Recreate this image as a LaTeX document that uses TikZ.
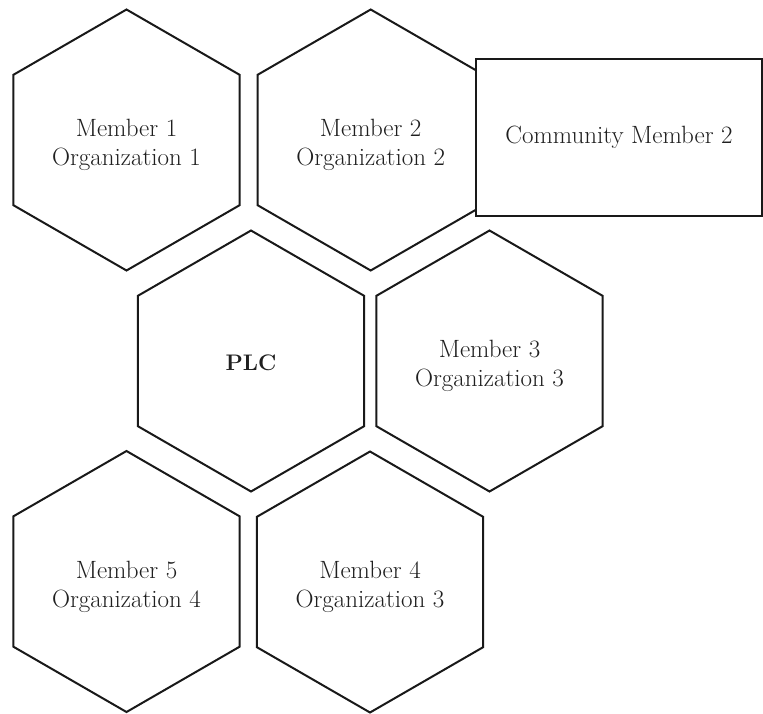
\documentclass[tikz,border=0pt]{standalone}
\usetikzlibrary{shapes.geometric}
\begin{document}
\begin{tikzpicture}[x=1pt,y=-1pt,
  hexa/.style={draw=black!90, line width=2pt, regular polygon, regular polygon sides=6,
    shape border rotate=30, minimum size=261pt, inner sep=0pt, fill=white},
  hexlab/.style={align=center, font=\fontsize{25}{29}\selectfont, text=black!88,
    inner sep=0pt, yshift=-5pt},
  rectbox/.style={draw=black!90, line width=2pt, rectangle, minimum width=286pt,
    minimum height=157pt, inner sep=0pt, fill=white, font=\fontsize{25}{29}\selectfont, text=black!88}]
\useasboundingbox (0,0) rectangle (763,713);
\node[hexa, label={[hexlab]center:{Member 1\\Organization 1}}] (m1) at (126.5,140) {};
\node[hexa, label={[hexlab]center:{Member 2\\Organization 2}}] (m2) at (370.7,140) {};
\node[rectbox] (c2) at (619,137.5) {Community Member 2};
\node[hexa, label={[hexlab, font=\fontsize{22.5}{29}\selectfont\bfseries, yshift=3pt]center:{PLC}}] (plc) at (251,361) {};
\node[hexa, label={[hexlab]center:{Member 3\\Organization 3}}] (m3) at (489.5,361) {};
\node[hexa, label={[hexlab]center:{Member 5\\Organization 4}}] (m5) at (126.5,581.5) {};
\node[hexa, label={[hexlab]center:{Member 4\\Organization 3}}] (m4) at (370,582) {};
\end{tikzpicture}
\end{document}
